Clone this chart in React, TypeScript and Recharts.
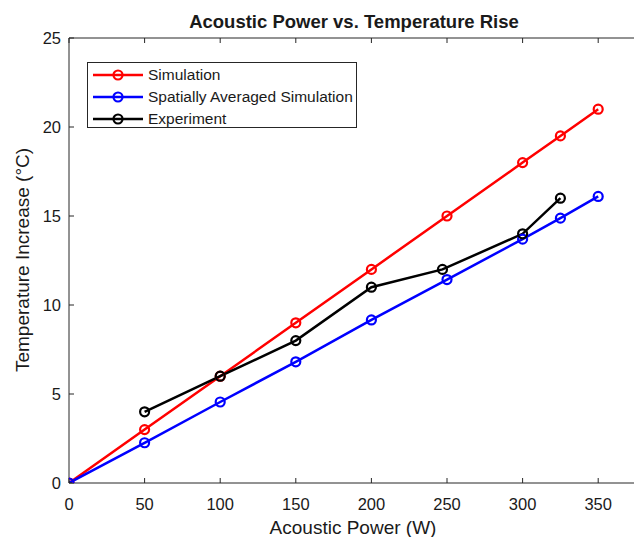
import React from 'react';
import { LineChart, Line, XAxis, YAxis, Legend } from 'recharts';

const simPower = [0, 50, 100, 150, 200, 250, 300, 325, 350];
const simTemp = [0, 3, 6, 9, 12, 15, 18, 19.5, 21];
const avgPower = [0, 50, 100, 150, 200, 250, 300, 325, 350];
const avgTemp = [0, 2.26, 4.55, 6.81, 9.16, 11.43, 13.7, 14.88, 16.1];
const expPower = [50, 100, 150, 200, 247, 300, 325];
const expTemp = [4, 6, 8, 11, 12, 14, 16];
const xTicks = [0, 50, 100, 150, 200, 250, 300, 350];
const yTicks = [0, 5, 10, 15, 20, 25];

const seriesNames = ['Simulation', 'Spatially Averaged Simulation', 'Experiment'];
const seriesColors = ['#FF0000', '#0000FF', '#000000'];

const toRows = (xs: number[], ys: number[]) => xs.map((x, i) => ({ x, y: ys[i] }));
const simData = toRows(simPower, simTemp);
const avgData = toRows(avgPower, avgTemp);
const expData = toRows(expPower, expTemp);

const FONT = '"Liberation Sans", Arial, Helvetica, sans-serif';
const TEXT = '#1a1a1a';

const LegendBox = () => (
  <div
    style={{
      width: 270,
      height: 66,
      border: '1px solid #262626',
      background: '#fff',
      fontFamily: FONT,
      fontSize: 15.5,
      color: TEXT,
      boxSizing: 'border-box',
      paddingTop: 1,
    }}
  >
    {seriesNames.map((n, i) => (
      <div key={n} style={{ height: 22, display: 'flex', alignItems: 'center' }}>
        <svg width={60} height={22} style={{ display: 'block' }}>
          <line x1={5} y1={11} x2={55} y2={11} stroke={seriesColors[i]} strokeWidth={2.5} />
          <circle cx={30} cy={11} r={4.5} fill="none" stroke={seriesColors[i]} strokeWidth={2.2} />
        </svg>
        <span style={{ whiteSpace: 'nowrap' }}>{n}</span>
      </div>
    ))}
  </div>
);

const dotStyle = (c: string) => ({ r: 4.5, stroke: c, strokeWidth: 2.2, fill: 'none' });

export default function App() {
  return (
    <div
      style={{
        position: 'absolute',
        left: 0,
        top: 0,
        width: 634,
        height: 537,
        overflow: 'hidden',
        background: '#fff',
      }}
    >
      <LineChart width={660} height={537} margin={{ top: 37, right: 24, left: 0, bottom: 0 }}>
        <XAxis
          xAxisId="bottom"
          dataKey="x"
          type="number"
          domain={[0, 375]}
          ticks={xTicks}
          allowDataOverflow
          height={54}
          tickSize={-5}
          tickMargin={20}
          stroke="#262626"
          tick={{ fill: TEXT, fontSize: 16.5, fontFamily: FONT }}
          label={{
            content: () => (
              <g>
                <text x={353} y={534} textAnchor="middle" fontSize={19} fontFamily={FONT} fill={TEXT}>
                  Acoustic Power (W)
                </text>
                <text x={354} y={28} textAnchor="middle" fontSize={18.5} fontWeight="bold" fontFamily={FONT} fill={TEXT}>
                  Acoustic Power vs. Temperature Rise
                </text>
              </g>
            ),
          }}
        />
        <XAxis
          xAxisId="top"
          orientation="top"
          dataKey="x"
          type="number"
          domain={[0, 375]}
          ticks={xTicks}
          allowDataOverflow
          height={1}
          tickSize={-5}
          tickFormatter={() => ''}
          stroke="#262626"
        />
        <YAxis
          yAxisId="left"
          type="number"
          domain={[0, 25]}
          ticks={yTicks}
          allowDataOverflow
          width={69}
          tickSize={-5}
          tickMargin={13}
          stroke="#262626"
          tick={{ fill: TEXT, fontSize: 16.5, fontFamily: FONT }}
          label={{
            content: () => (
              <text
                transform="translate(29,260) rotate(-90)"
                textAnchor="middle"
                fontSize={19}
                fontFamily={FONT}
                fill={TEXT}
              >
                Temperature Increase (°C)
              </text>
            ),
          }}
        />
        <YAxis
          yAxisId="right"
          orientation="right"
          type="number"
          domain={[0, 25]}
          ticks={yTicks}
          allowDataOverflow
          width={0}
          tickSize={-5}
          tickFormatter={() => ''}
          stroke="#262626"
        />
        <Legend
          layout="horizontal"
          verticalAlign="middle"
          align="center"
          wrapperStyle={{ left: 87, top: 62, width: 270, height: 66 }}
          content={() => <LegendBox />}
        />
        <Line
          xAxisId="top"
          yAxisId="right"
          data={simData}
          dataKey="y"
          legendType="none"
          stroke="none"
          dot={false}
          activeDot={false}
          isAnimationActive={false}
        />
        <Line
          xAxisId="bottom"
          yAxisId="left"
          data={simData}
          dataKey="y"
          name={seriesNames[0]}
          stroke={seriesColors[0]}
          strokeWidth={2.5}
          dot={dotStyle(seriesColors[0])}
          activeDot={false}
          isAnimationActive={false}
        />
        <Line
          xAxisId="bottom"
          yAxisId="left"
          data={avgData}
          dataKey="y"
          name={seriesNames[1]}
          stroke={seriesColors[1]}
          strokeWidth={2.5}
          dot={dotStyle(seriesColors[1])}
          activeDot={false}
          isAnimationActive={false}
        />
        <Line
          xAxisId="bottom"
          yAxisId="left"
          data={expData}
          dataKey="y"
          name={seriesNames[2]}
          stroke={seriesColors[2]}
          strokeWidth={2.5}
          dot={dotStyle(seriesColors[2])}
          activeDot={false}
          isAnimationActive={false}
        />
      </LineChart>
    </div>
  );
}
